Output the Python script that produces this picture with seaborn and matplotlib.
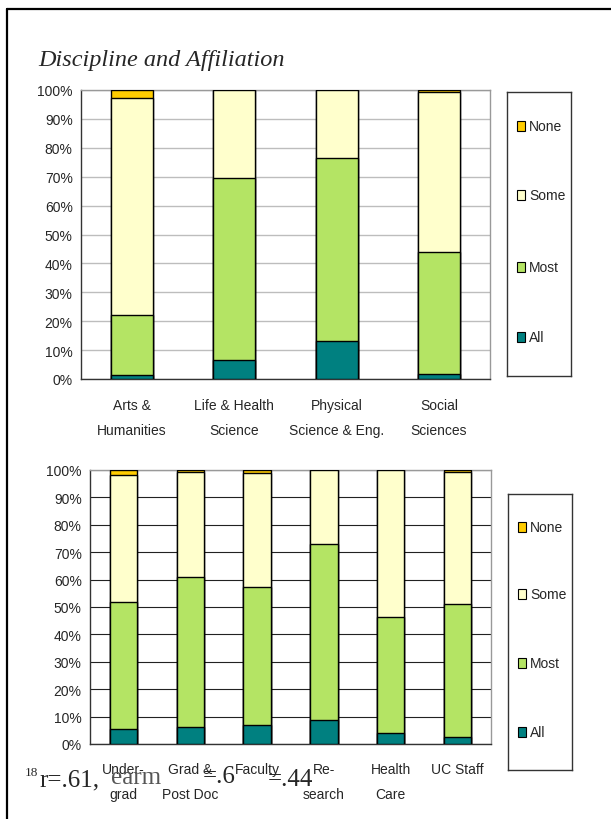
import matplotlib
matplotlib.use('Agg')
import matplotlib.pyplot as plt
import matplotlib.patches as mpatches
from matplotlib.lines import Line2D
import numpy as np
import pandas as pd
import seaborn as sns

# Data (percent of respondents, stacked from bottom: All, Most, Some, None)
levels = ['All', 'Most', 'Some', 'None']
level_colors = ['#008080', '#B4E464', '#FFFFCC', '#FFCC00']

disciplines = ['Arts &\nHumanities', 'Life & Health\nScience', 'Physical\nScience & Eng.', 'Social\nSciences']
disc_all = [1.4, 6.6, 13.3, 1.6]
disc_most = [20.9, 63.1, 63.3, 42.4]
disc_some = [74.8, 30.3, 23.4, 55.3]
disc_none = [2.9, 0.0, 0.0, 0.7]

affiliations = ['Under-\ngrad', 'Grad &\nPost Doc', 'Faculty', 'Re-\nsearch', 'Health\nCare', 'UC Staff']
affil_all = [5.5, 6.2, 6.8, 8.6, 3.9, 2.7]
affil_most = [46.4, 54.6, 50.6, 64.3, 42.6, 48.3]
affil_some = [46.3, 38.5, 41.4, 27.1, 53.5, 48.4]
affil_none = [1.8, 0.7, 1.2, 0.0, 0.0, 0.6]

W, H = 611, 820
sns.set_style('white')
plt.rcParams['font.family'] = ['Liberation Sans', 'DejaVu Sans']


def px_rect(x0, y0, x1, y1):
    # pixel box (top-left origin) -> figure fraction rect
    return [x0 / W, 1 - y1 / H, (x1 - x0) / W, (y1 - y0) / H]


def draw_panel(ax, cats, a, m, s, n, grid_color, grid_lw, pad):
    df = pd.DataFrame({'cat': cats, 'All': a, 'Most': m, 'Some': s, 'None': n})
    cum = df[levels].cumsum(axis=1)
    cum['cat'] = df['cat']
    # tallest layer first, lower layers drawn over it
    for lev, col in reversed(list(zip(levels, level_colors))):
        sns.barplot(data=cum, x='cat', y=lev, color=col, saturation=1, width=0.41,
                    edgecolor='black', linewidth=1, ax=ax, zorder=3)
    k = len(cats)
    ax.set_xlim(-0.5, k - 0.5)
    ax.set_ylim(0, 100)
    ax.set_yticks(np.arange(0, 101, 10))
    ax.set_yticklabels([f'{v}%' for v in range(0, 101, 10)], fontsize=10)
    ax.set_xticks(np.arange(k))
    ax.set_xticklabels(cats, fontsize=10, linespacing=2.0)
    ax.set_xticks(np.arange(k + 1) - 0.5, minor=True)
    ax.tick_params(axis='x', which='major', length=0, pad=pad)
    ax.tick_params(axis='x', which='minor', length=4, direction='out', color='#333333')
    ax.tick_params(axis='y', length=4, direction='out', color='#333333', pad=2)
    ax.yaxis.grid(True, color=grid_color, linewidth=grid_lw)
    ax.set_axisbelow(True)
    ax.set_xlabel('')
    ax.set_ylabel('')
    for side in ['left', 'bottom']:
        ax.spines[side].set_color('#333333')
        ax.spines[side].set_linewidth(1)
    for side in ['top', 'right']:
        ax.spines[side].set_visible(True)
        ax.spines[side].set_color('#999999')
        ax.spines[side].set_linewidth(1)


def draw_legend(fig, box, entry_y):
    x0, y0, x1, y1 = box
    lax = fig.add_axes(px_rect(x0, y0, x1, y1))
    lax.set_xlim(0, x1 - x0)
    lax.set_ylim(y1 - y0, 0)
    lax.set_xticks([])
    lax.set_yticks([])
    for sp in lax.spines.values():
        sp.set_visible(True)
        sp.set_color('#333333')
        sp.set_linewidth(1)
    for lev, col, y in zip(['None', 'Some', 'Most', 'All'],
                           ['#FFCC00', '#FFFFCC', '#B4E464', '#008080'], entry_y):
        yy = y - y0
        lax.add_patch(mpatches.Rectangle((10, yy - 5), 8, 10, facecolor=col,
                                         edgecolor='black', linewidth=0.8))
        lax.text(22, yy, lev, fontsize=10, va='center', ha='left')


fig = plt.figure(figsize=(W / 100, H / 100), dpi=100)

ax1 = fig.add_axes(px_rect(81, 91, 490, 380))
draw_panel(ax1, disciplines, disc_all, disc_most, disc_some, disc_none, '#BDBDBD', 1, 14)

ax2 = fig.add_axes(px_rect(90, 471, 491, 745))
draw_panel(ax2, affiliations, affil_all, affil_most, affil_some, affil_none, '#222222', 0.8, 13)

draw_legend(fig, (507, 93, 571, 377), [127, 196, 268, 338])
draw_legend(fig, (508, 495, 572, 771), [528, 595, 664, 733])

fig.text(38 / W, 1 - 66 / H, 'Discipline and Affiliation', family='Liberation Serif',
         style='italic', fontsize=17.5, va='baseline')

# page frame
fig.add_artist(Line2D([7 / W, 7 / W], [0, 1 - 10 / H], color='black', linewidth=1.6))
fig.add_artist(Line2D([7 / W, 1], [1 - 10 / H, 1 - 10 / H], color='black', linewidth=1.6))

# overlapping footnote text from the page
serif = dict(family='Liberation Serif', va='baseline')
fig.text(25 / W, 1 - 776 / H, '18', fontsize=9.5, **serif)
fig.text(39 / W, 1 - 786 / H, 'r=.61,', fontsize=18, **serif)
fig.text(111 / W, 1 - 784 / H, 'earm', fontsize=18, color='#555555', **serif)
fig.text(203 / W, 1 - 783 / H, '=.6', fontsize=18, **serif)
fig.text(268 / W, 1 - 786 / H, '=.44', fontsize=18, **serif)

fig.savefig('out.png', dpi=100)
